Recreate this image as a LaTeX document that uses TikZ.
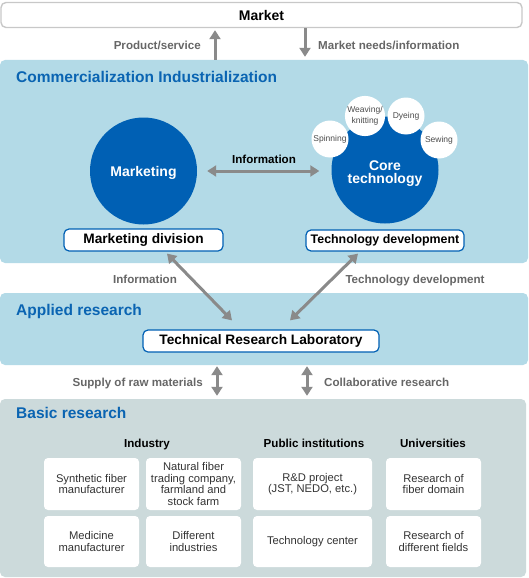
\documentclass[tikz,border=0pt]{standalone}
\usepackage{fontspec}
\setmainfont{Liberation Sans}
\usepackage{tikz}
\usetikzlibrary{arrows.meta,calc,positioning}
\definecolor{panelblue}{HTML}{B3DAE7}
\definecolor{panelgray}{HTML}{CCDADB}
\definecolor{deepblue}{HTML}{0060B4}
\definecolor{titleblue}{HTML}{0A64B2}
\definecolor{arrowgray}{HTML}{8A8A8A}
\definecolor{labelgray}{HTML}{666666}
\definecolor{boxgray}{HTML}{C8C8C8}
\tikzset{ar/.style={{Triangle[length=9pt,width=11pt]}-{Triangle[length=9pt,width=11pt]},line width=3pt,draw=arrowgray}}
\tikzset{sar/.style={-{Triangle[length=9pt,width=11pt]},line width=3pt,draw=arrowgray}}
\tikzset{%
    panel/.style={rectangle,rounded corners=5pt,inner sep=0pt},
    title/.style={anchor=base west,inner sep=0pt,text=titleblue,font=\bfseries\fontsize{15.5}{18}\selectfont},
    lbl/.style={inner sep=0pt,text=labelgray,font=\bfseries\fontsize{11.6}{14}\selectfont},
    head/.style={anchor=base,inner sep=0pt,font=\bfseries\fontsize{11.6}{14}\selectfont},
}
\tikzstyle{hub}=[circle,fill=deepblue,minimum size=107,inner sep=0pt,text=white,font=\bfseries\fontsize{14}{13}\selectfont]
\tikzstyle{proc}=[circle,fill=white,minimum size=37,inner sep=0pt,text=black!70,font=\fontsize{8.5}{11.5}\selectfont]
\tikzstyle{unit}=[draw=deepblue,fill=white,rounded corners=5pt,line width=1.2pt,inner sep=0pt,font=\bfseries\fontsize{13.7}{15}\selectfont]
\tikzstyle{cell}=[fill=white,rounded corners=4pt,inner sep=0pt,text=black!80,font=\fontsize{11.2}{11.7}\selectfont]

\begin{document}
\begin{tikzpicture}[x=1pt,y=-1pt,every text node part/.style={align=center}]
  \useasboundingbox (0,0) rectangle (528,578);
  % panels
  \node[panel,fill=panelblue,minimum width=528,minimum height=203] (comm) at (264,161.5) {};
  \node[panel,fill=panelblue,minimum width=528,minimum height=72] (app) at (264,329) {};
  \node[panel,fill=panelgray,minimum width=526,minimum height=178] (basic) at (263,488) {};
  \node[draw=boxgray,fill=white,rounded corners=5pt,line width=1.4pt,minimum width=521,minimum height=25,inner sep=0pt,font=\bfseries\fontsize{14}{16}\selectfont] (market) at (261.5,15) {Market};

  \node[title] (ttl1) at (16,82) {Commercialization Industrialization};
  \node[title] (ttl2) at (16,315) {Applied research};
  \node[title] (ttl3) at (16,418.5) {Basic research};

  % market flows
  \coordinate (up) at (215,0);
  \coordinate (down) at (305,0);
  \draw[sar] (up |- comm.north) -- ($(up |- market.south)+(0,2)$);
  \draw[sar] (down |- market.south) -- ($(down |- comm.north)+(0,-3)$);
  \node[lbl,anchor=base east] (prod) at (201,49) {Product/service};
  \node[lbl,anchor=base west] (needs) at (318,49) {Market needs/information};

  % commercialization
  \node[hub,text height=13] (mkt) at (143.5,171) {Marketing};
  \node[hub,text height=29] (core) at (385,170) {Core\\technology};
  \node[proc] (spin) at (330,139) {Spinning};
  \node[proc] (weave) at (365,116) {Weaving/\\knitting};
  \node[proc] (dye) at (406,116) {Dyeing};
  \node[proc] (sew) at (439,140) {Sewing};
  \draw[ar] ($(mkt.east)+(10,0)$) -- ($(mkt.east -| core.west)+(-12,0)$);
  \node[head] (info) at (264,163.5) {Information};
  \node[unit,minimum width=159,minimum height=22] (mdiv) at (143.5,240) {Marketing division};
  \node[unit,minimum width=158,minimum height=21,font=\bfseries\fontsize{12.4}{15}\selectfont] (tdev) at (385,240.5) {Technology development};

  % applied research
  \node[unit,minimum width=236,minimum height=22] (lab) at (261,341) {Technical Research Laboratory};
  \draw[ar] ($(mdiv.south)+(23.5,2)$) -- ($(lab.north)+(-29,-9)$);
  \draw[ar] ($(tdev.south)+(-27,2)$) -- ($(lab.north)+(29,-9)$);
  \node[lbl,anchor=base] (info2) at (145,283) {Information};
  \node[lbl,anchor=base] (tdl) at (415,283) {Technology development};

  \coordinate (sup) at (217,0);
  \coordinate (col) at (307,0);
  \draw[ar] ($(sup |- app.south)+(0,1)$) -- ($(sup |- basic.north)+(0,-3)$);
  \draw[ar] ($(col |- app.south)+(0,1)$) -- ($(col |- basic.north)+(0,-3)$);
  \node[lbl,anchor=base east] (raw) at (203,386.5) {Supply of raw materials};
  \node[lbl,anchor=base west] (collab) at (324,386.5) {Collaborative research};

  % basic research
  \node[head] (ind) at (147,447) {Industry};
  \node[head] (pub) at (314,447) {Public institutions};
  \node[head] (uni) at (433,447) {Universities};
  \node[cell,minimum width=95,minimum height=52] (syn) at (91.5,484) {Synthetic fiber\\manufacturer};
  \node[cell,minimum width=95,minimum height=52] (nat) at (193.5,484) {Natural fiber\\trading company,\\farmland and\\stock farm};
  \node[cell,minimum width=119,minimum height=52] (rnd) at (312.5,484) {R\&D project\\(JST, NEDO, etc.)};
  \node[cell,minimum width=95,minimum height=52] (fib) at (433.5,484) {Research of\\fiber domain};
  \node[cell,minimum width=95,minimum height=51] (med) at (91.5,541.5) {Medicine\\manufacturer};
  \node[cell,minimum width=95,minimum height=51] (dif) at (193.5,541.5) {Different\\industries};
  \node[cell,minimum width=119,minimum height=51] (tec) at (312.5,541.5) {Technology center};
  \node[cell,minimum width=95,minimum height=51] (fld) at (433.5,541.5) {Research of\\different fields};
\end{tikzpicture}
\end{document}
